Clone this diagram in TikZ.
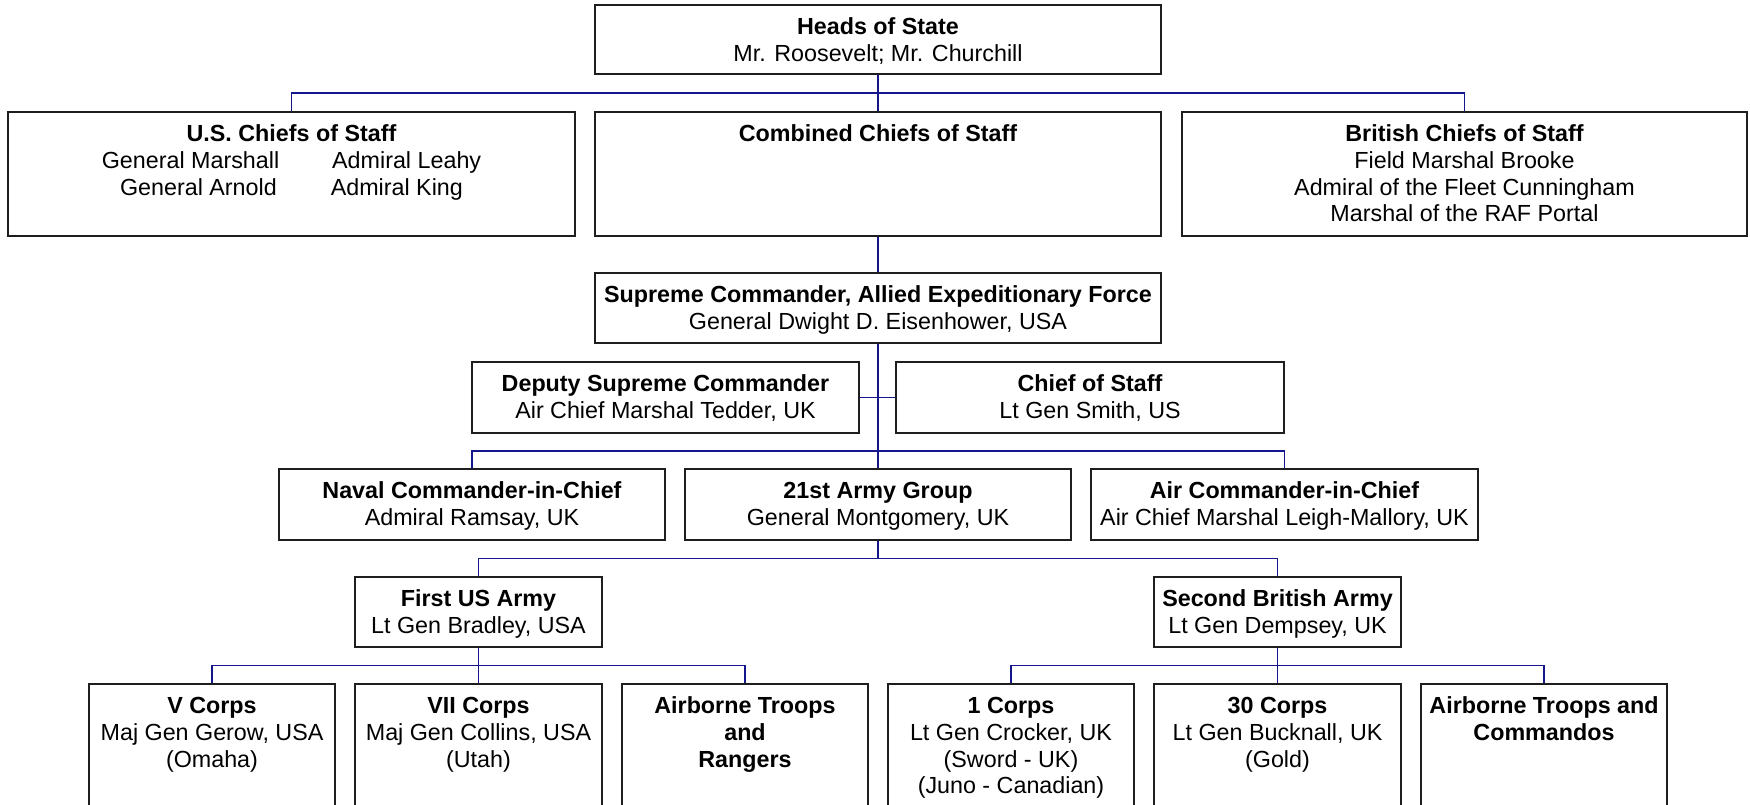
\documentclass[tikz,border=0pt]{standalone}
\usepackage{fontspec}
\setmainfont{Liberation Sans}
\usetikzlibrary{calc}

\definecolor{linknavy}{RGB}{22,22,140}
\definecolor{boxline}{RGB}{30,30,30}

\pgfdeclarelayer{background}
\pgfsetlayers{background,main}

\tikzset{
  orgbox/.style={draw=boxline, line width=1.9pt, fill=white, rectangle,
    inner sep=0pt, outer sep=0pt, anchor=north west},
  orgtext/.style={anchor=north, inner sep=0pt, align=center,
    font=\fontsize{23.3}{26.8}\selectfont},
  conn/.style={draw=linknavy, line width=1.6pt},
}

% \orgnode{name}{x1}{y1}{x2}{y2}{text}
\newcommand{\orgnode}[6]{%
  \node[orgbox, minimum width=#4-#2, minimum height=#5-#3] (#1) at (#2,#3) {};
  \node[orgtext] (#1-t) at ($(#1.north)+(0,10.5)$) {\strut#6};
}

\begin{document}
\begin{tikzpicture}[x=1pt,y=-1pt]
\useasboundingbox (0,0) rectangle (1750,805);
\clip (0,0) rectangle (1750,805);

% boxes
\orgnode{heads}{595}{5}{1161}{74}{\textbf{Heads of State}\\Mr. Roosevelt; Mr. Churchill}
\orgnode{us}{8}{112}{575}{236}{\textbf{U.S. Chiefs of Staff}\\General Marshall\hspace{53pt}Admiral Leahy\\General Arnold\hspace{54pt}Admiral King}
\orgnode{comb}{595}{112}{1161}{236}{\textbf{Combined Chiefs of Staff}}
\orgnode{brit}{1182}{112}{1747}{236}{\textbf{British Chiefs of Staff}\\Field Marshal Brooke\\Admiral of the Fleet Cunningham\\Marshal of the RAF Portal}
\orgnode{sup}{595}{273}{1161}{343}{\textbf{Supreme Commander, Allied Expeditionary Force}\\General Dwight D. Eisenhower, USA}
\orgnode{dep}{472}{362}{859}{433}{\textbf{Deputy Supreme Commander}\\Air Chief Marshal Tedder, UK}
\orgnode{cos}{896}{362}{1284}{433}{\textbf{Chief of Staff}\\Lt Gen Smith, US}
\orgnode{nav}{279}{469}{665}{540}{\textbf{Naval Commander-in-Chief}\\Admiral Ramsay, UK}
\orgnode{ag21}{685}{469}{1071}{540}{\textbf{21st Army Group}\\General Montgomery, UK}
\orgnode{air}{1091}{469}{1478}{540}{\textbf{Air Commander-in-Chief}\\Air Chief Marshal Leigh-Mallory, UK}
\orgnode{first}{355}{577}{602}{647}{\textbf{First US Army}\\Lt Gen Bradley, USA}
\orgnode{second}{1154}{577}{1401}{647}{\textbf{Second British Army}\\Lt Gen Dempsey, UK}
\orgnode{vc}{89}{684}{335}{830}{\textbf{V Corps}\\Maj Gen Gerow, USA\\(Omaha)}
\orgnode{viic}{355}{684}{602}{830}{\textbf{VII Corps}\\Maj Gen Collins, USA\\(Utah)}
\orgnode{abr}{622}{684}{868}{830}{\textbf{Airborne Troops}\\\textbf{and}\\\textbf{Rangers}}
\orgnode{c1}{888}{684}{1134}{830}{\textbf{1 Corps}\\Lt Gen Crocker, UK\\(Sword - UK)\\(Juno - Canadian)}
\orgnode{c30}{1154}{684}{1401}{830}{\textbf{30 Corps}\\Lt Gen Bucknall, UK\\(Gold)}
\orgnode{abc}{1421}{684}{1667}{830}{\textbf{Airborne Troops and}\\\textbf{Commandos}}

% junctions of the branch lines, halfway between the levels
\coordinate (b1) at ($(heads.south)!0.5!(comb.north)$);
\coordinate (b2) at ($(cos.south -| sup.south)!0.5!(ag21.north)$);
\coordinate (b3) at ($(ag21.south)!0.5!(ag21.south |- first.north)$);
\coordinate (b4) at ($(first.south)!0.5!(viic.north)$);
\coordinate (b5) at ($(second.south)!0.5!(c30.north)$);

% connectors, kept behind the boxes
\begin{pgfonlayer}{background}
\draw[conn] (heads.south) -- (comb.north);
\draw[conn] (us.north) |- (b1) -| (brit.north);
\draw[conn] (comb.south) -- (sup.north);
\draw[conn] (sup.south) -- (ag21.north);
\draw[conn] (dep.east) -- (cos.west);
\draw[conn] (nav.north) |- (b2) -| (air.north);
\draw[conn] (ag21.south) -- (b3);
\draw[conn] (first.north) |- (b3) -| (second.north);
\draw[conn] (first.south) -- (viic.north);
\draw[conn] (vc.north) |- (b4) -| (abr.north);
\draw[conn] (second.south) -- (c30.north);
\draw[conn] (c1.north) |- (b5) -| (abc.north);
\end{pgfonlayer}
\end{tikzpicture}
\end{document}
